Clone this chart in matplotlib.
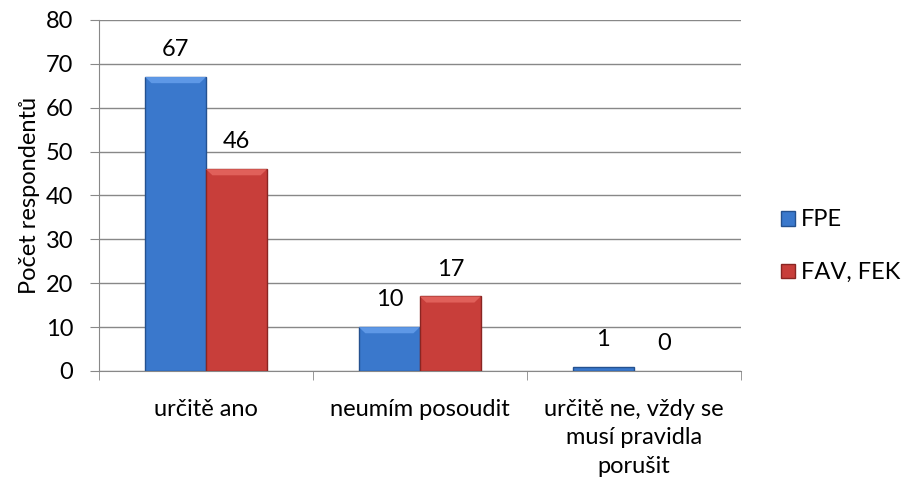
import matplotlib
matplotlib.use("Agg")
import matplotlib.pyplot as plt
from matplotlib.patches import Polygon
import numpy as np

categories = ["určitě ano", "neumím posoudit", "určitě ne, vždy se\nmusí pravidla\nporušit"]
series_names = ["FPE", "FAV, FEK"]
fpe = [67, 10, 1]
fav_fek = [46, 17, 0]
yticks = [0, 10, 20, 30, 40, 50, 60, 70, 80]

plt.rcParams["font.family"] = ["Lato", "DejaVu Sans"]
FS = 17

fig = plt.figure(figsize=(9.01, 4.84), dpi=100)
ax = fig.add_axes([0.110, 0.2335, 0.712, 0.7252])

x = np.arange(len(categories))
width = 0.285
colors = ["#3A78CC", "#C83E3A"]
tops = ["#5E98E6", "#E0605A"]
edges = ["#24518F", "#8A2522"]
bevel_y = 1.4
bevel_x = 0.03
for i, (vals, name) in enumerate(zip([fpe, fav_fek], series_names)):
    pos = x + (i - 0.5) * width
    bars = ax.bar(pos, vals, width, color=colors[i], edgecolor=edges[i], linewidth=1.0,
                  label=name, zorder=3)
    for b, v in zip(bars, vals):
        if v == 0:
            b.set_linewidth(0)
        if v > 2 * bevel_y:
            x0, x1 = b.get_x(), b.get_x() + b.get_width()
            ax.add_patch(Polygon([(x0, v), (x1, v), (x1 - bevel_x, v - bevel_y),
                                  (x0 + bevel_x, v - bevel_y)], closed=True,
                                 facecolor=tops[i], edgecolor="none", zorder=4))
        ax.annotate(str(v), (b.get_x() + b.get_width() / 2, v), xytext=(0, 12),
                    textcoords="offset points", ha="center", va="bottom", fontsize=FS)

ax.set_xlim(-0.5, len(categories) - 0.5)
ax.set_ylim(0, 80)
ax.set_yticks(yticks)
ax.tick_params(axis="y", labelsize=FS, color="#888888", length=6.5, pad=12, direction="out")
ax.set_xticks(x)
ax.set_xticklabels(categories, fontsize=FS, linespacing=1.45)
ax.tick_params(axis="x", length=0, pad=20)
ax.set_xticks(np.arange(len(categories) + 1) - 0.5, minor=True)
ax.tick_params(axis="x", which="minor", length=6.5, color="#888888")
ax.grid(axis="y", color="#888888", linewidth=1, zorder=0)
for s in ["top", "right"]:
    ax.spines[s].set_visible(False)
ax.spines["left"].set_color("#888888")
ax.spines["bottom"].set_color("#888888")
ax.set_ylabel("Počet respondentů", fontsize=FS, labelpad=4)

ax.legend(loc="center left", bbox_to_anchor=(1.03, 0.355), frameon=False, fontsize=FS,
          handlelength=0.6, handleheight=0.6, labelspacing=1.35, handletextpad=0.25)

fig.savefig("out.png", dpi=100)
